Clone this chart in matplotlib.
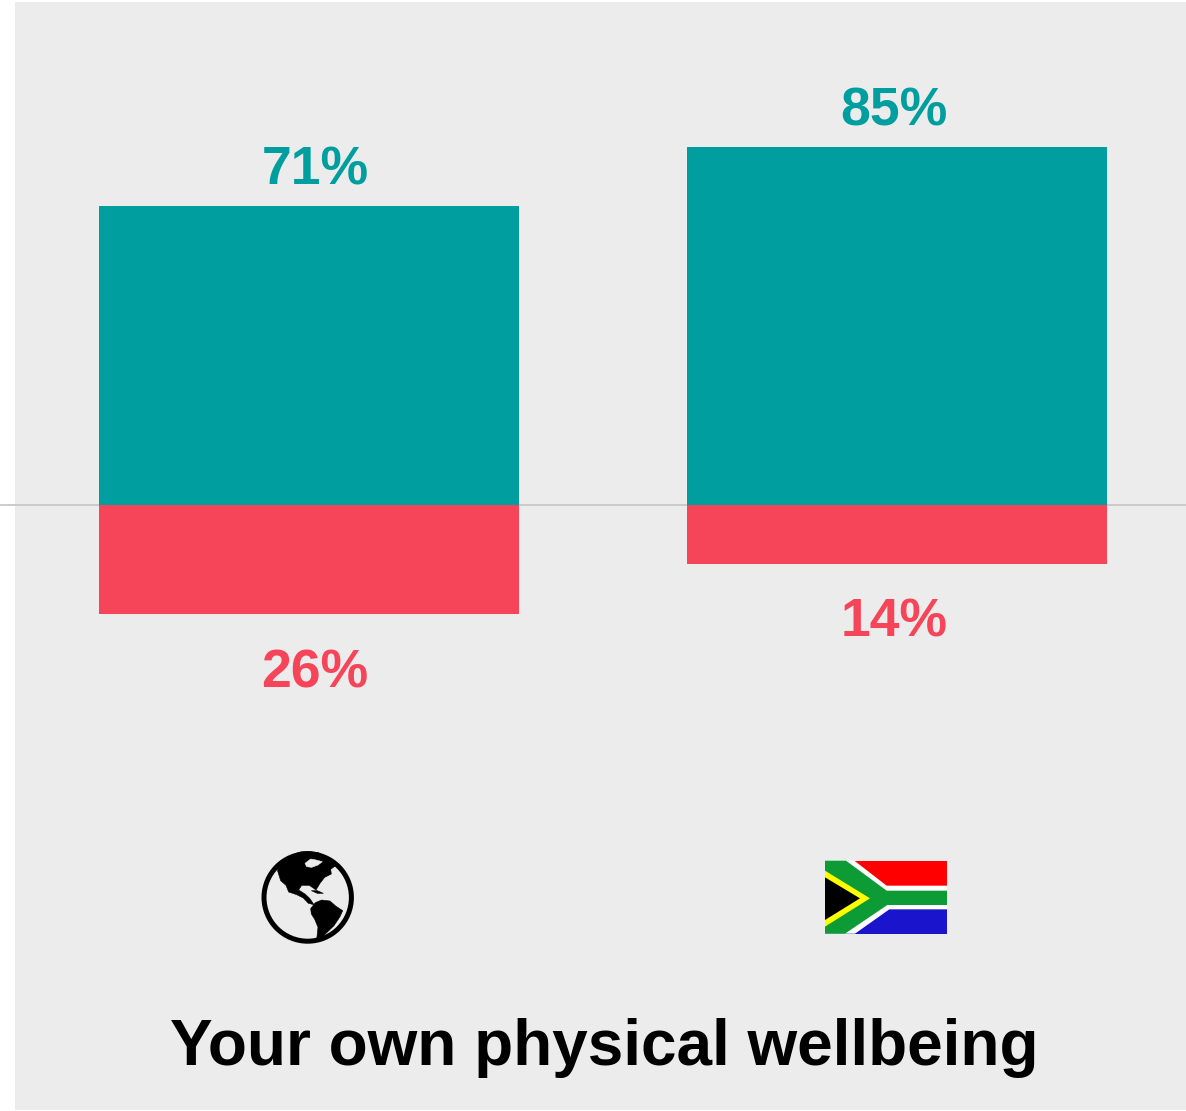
import matplotlib
matplotlib.use('Agg')
import matplotlib.pyplot as plt
from matplotlib.patches import Circle, Polygon, Rectangle

plt.rcParams['font.family'] = ['Liberation Sans', 'DejaVu Sans']

# values in percent
groups = ['World', 'South Africa']
positive = [71, 85]
negative = [26, 14]
title = 'Your own physical wellbeing'

TEAL = '#009E9E'
RED = '#F64458'
PANEL = '#ECECEC'

W, H = 1186, 1111
fig = plt.figure(figsize=(W / 100, H / 100), dpi=100, facecolor='white')

# pixel axes for the panel and the two icons
bg = fig.add_axes([0, 0, 1, 1], zorder=0)
bg.set_xlim(0, W)
bg.set_ylim(H, 0)
bg.axis('off')
bg.add_patch(Rectangle((15, 2), W - 15, 1108, color=PANEL, lw=0))

# chart axes, zero line sits at pixel 505
ax = fig.add_axes([0, 0, 1, 1], zorder=1)
ax.patch.set_alpha(0)
ax.axis('off')
ax.set_xlim(-309 / 588, (W - 309) / 588)
ax.set_ylim(-(H - 505) / 4.21, 505 / 4.21)

x = range(len(groups))
ax.bar(x, positive, width=420 / 588, color=TEAL, lw=0)
ax.bar(x, [-v for v in negative], width=420 / 588, color=RED, lw=0)
ax.axhline(0, color='#C8C8C8', lw=1.3, zorder=0.5)

# labels are not quite centred on the bars in the original
label_shift = [4.3, -2.2]
for i, (p, n) in enumerate(zip(positive, negative)):
    ax.annotate(f'{p}%', (i, p), xytext=(label_shift[i], 15.8), textcoords='offset points',
                ha='center', va='baseline', color=TEAL, fontsize=38.5, fontweight='bold')
    ax.annotate(f'{n}%', (i, -n), xytext=(label_shift[i], -52.6), textcoords='offset points',
                ha='center', va='baseline', color=RED, fontsize=38.5, fontweight='bold')

bg.text(604.5, 1065.5, title, ha='center', va='baseline', color='black',
        fontsize=46, fontweight='bold', zorder=3)


# --- globe icon, traced in zoomed crop coordinates ---
def globe_xy(pts):
    return [(240 + a / 3, 830 + b / 3) for a, b in pts]


ring = Circle((307.7, 897.5), 43.7, fc='none', ec='black', lw=3.6, zorder=3)
bg.add_patch(ring)
north_america = [(112, 120), (130, 94), (155, 76), (180, 66), (205, 64), (235, 68), (265, 84),
                 (288, 106), (272, 118), (274, 132), (254, 142), (240, 160), (228, 180),
                 (208, 166), (185, 166), (176, 180), (195, 192), (209, 205), (222, 224),
                 (205, 220), (190, 204), (170, 194), (146, 186), (138, 166), (122, 152)]
hudson = [(195, 100), (212, 87), (228, 90), (247, 95), (234, 105), (215, 112), (200, 110)]
cuba = [(214, 182), (232, 182), (250, 190), (232, 190)]
south_america = [(212, 236), (226, 218), (245, 210), (270, 213), (287, 228), (308, 242),
                 (300, 260), (282, 287), (252, 316), (238, 332), (230, 328), (234, 292),
                 (224, 268), (214, 252)]
for pts, col in [(north_america, 'black'), (hudson, PANEL), (cuba, 'black'), (south_america, 'black')]:
    bg.add_patch(Polygon(globe_xy(pts), closed=True, fc=col, ec=col, lw=0.4, zorder=3))


# --- flag icon, traced in zoomed crop coordinates ---
def flag_xy(pts):
    return [(810 + a / 3, 845 + b / 3) for a, b in pts]


flag_parts = [
    ('#FF0000', [(45, 47), (411, 47), (411, 137), (45, 137)]),
    ('#1A14CC', [(45, 170), (411, 170), (411, 266), (45, 266)]),
    ('white', [(108, 47), (133, 47), (230, 122), (411, 122), (411, 193), (238, 193),
               (135, 266), (105, 266), (45, 266), (45, 47)]),
    ('#0C9B35', [(45, 47), (108, 47), (230, 137), (411, 137), (411, 180), (232, 180),
                 (105, 266), (45, 266)]),
    ('#FFFF00', [(45, 77), (180, 160), (45, 245)]),
    ('black', [(45, 97), (150, 160), (45, 225)]),
]
for col, pts in flag_parts:
    bg.add_patch(Polygon(flag_xy(pts), closed=True, fc=col, lw=0, zorder=3))

fig.savefig('out.png', dpi=100, facecolor='white')
